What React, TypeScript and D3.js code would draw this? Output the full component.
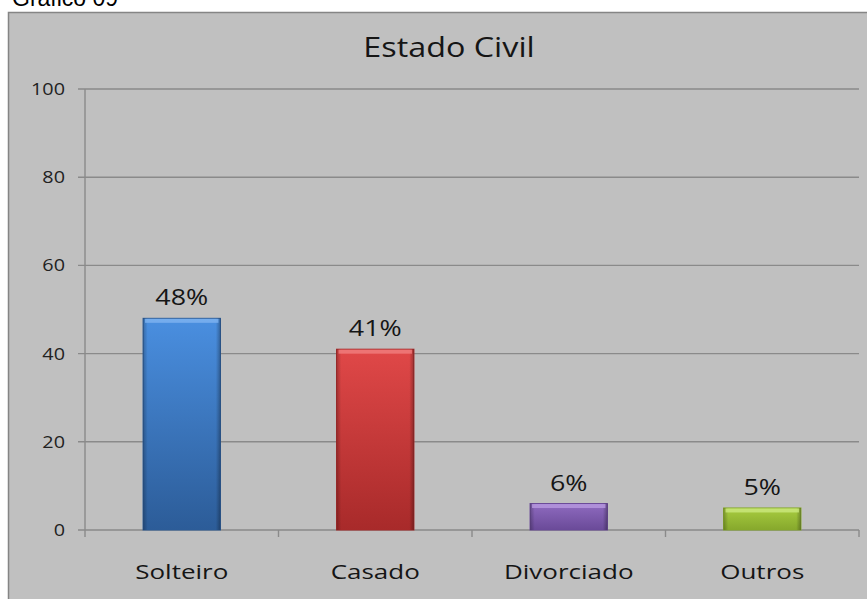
import React from "react";
import * as d3 from "d3";

const categories = ["Solteiro", "Casado", "Divorciado", "Outros"];
const values = [48, 41, 6, 5];
const valueLabels = ["48%", "41%", "6%", "5%"];
const yTicks = [0, 20, 40, 60, 80, 100];
const colors = [
  { top: "#4a8fe0", bottom: "#2c5c98", light: "#7fb4f0" },
  { top: "#e04848", bottom: "#a82a2a", light: "#f08080" },
  { top: "#8f6bc0", bottom: "#6a4a98", light: "#b89ae0" },
  { top: "#a8cc40", bottom: "#86a82c", light: "#cce880" },
];

const font = "'Open Sans', 'DejaVu Sans', sans-serif";

function SText({ x, y, sx, size, anchor, children, family = font, fill = "#151515" }: any) {
  return (
    <text
      transform={`translate(${x},${y}) scale(${sx},1)`}
      textAnchor={anchor}
      fontFamily={family}
      fontSize={size}
      fill={fill}
    >
      {children}
    </text>
  );
}

export default function App() {
  const W = 867, H = 599;
  const x0 = 85, x1 = 859, yTop = 89, yBot = 530;
  const x = d3.scaleBand().domain(categories).range([x0, x1]).paddingInner(0.6).paddingOuter(0.3);
  const y = d3.scaleLinear().domain([0, 100]).range([yBot, yTop]);
  const band = (x1 - x0) / categories.length;
  return (
    <svg width={W} height={H} style={{ position: "absolute", left: 0, top: 0 }}>
      <defs>
        {colors.map((c, i) => (
          <linearGradient key={i} id={`g${i}`} x1="0" y1="0" x2="0" y2="1">
            <stop offset="0" stopColor={c.top} />
            <stop offset="1" stopColor={c.bottom} />
          </linearGradient>
        ))}
        <linearGradient id="side" x1="0" y1="0" x2="1" y2="0">
          <stop offset="0" stopColor="#000" stopOpacity={0.25} />
          <stop offset="0.06" stopColor="#000" stopOpacity={0} />
          <stop offset="0.94" stopColor="#000" stopOpacity={0} />
          <stop offset="1" stopColor="#000" stopOpacity={0.3} />
        </linearGradient>
      </defs>
      <text x={12} y={6} fontFamily="Arial, 'Liberation Sans', sans-serif" fontSize={23} fill="#000">Gráfico 09</text>
      <rect x={8.5} y={12.5} width={W} height={H} fill="#c0c0c0" stroke="#858585" strokeWidth={1.5} />
      <SText x={449} y={57} sx={1.22} size={26.5} anchor="middle">Estado Civil</SText>
      {yTicks.map((t) => (
        <g key={t}>
          <line x1={78} x2={x1} y1={y(t)} y2={y(t)} stroke="#8a8a8a" strokeWidth={1.4} />
          <SText x={65} y={y(t) + 6} sx={1.2} size={16.5} anchor="end" fill="#222">{t}</SText>
        </g>
      ))}
      <line x1={x0} x2={x0} y1={yTop} y2={yBot + 7} stroke="#8a8a8a" strokeWidth={1.4} />
      {categories.map((c, i) => (
        <line key={c} x1={x0 + band * (i + 1)} x2={x0 + band * (i + 1)} y1={yBot} y2={yBot + 7} stroke="#8a8a8a" strokeWidth={1.4} />
      ))}
      {categories.map((c, i) => {
        const bx = x(c)!;
        const bw = x.bandwidth();
        const by = y(values[i]);
        const bh = yBot - by;
        return (
          <g key={c}>
            <rect x={bx} y={by} width={bw} height={bh} fill={`url(#g${i})`} stroke={colors[i].bottom} strokeWidth={1} />
            <rect x={bx} y={by} width={bw} height={bh} fill="url(#side)" />
            <rect x={bx + 2} y={by + 0.5} width={bw - 4} height={Math.min(4, bh / 3)} fill={colors[i].light} opacity={0.8} />
            <SText x={bx + bw / 2} y={by - 13} sx={1.22} size={22} anchor="middle">{valueLabels[i]}</SText>
            <SText x={bx + bw / 2} y={579} sx={1.3} size={20} anchor="middle">{c}</SText>
          </g>
        );
      })}
    </svg>
  );
}
